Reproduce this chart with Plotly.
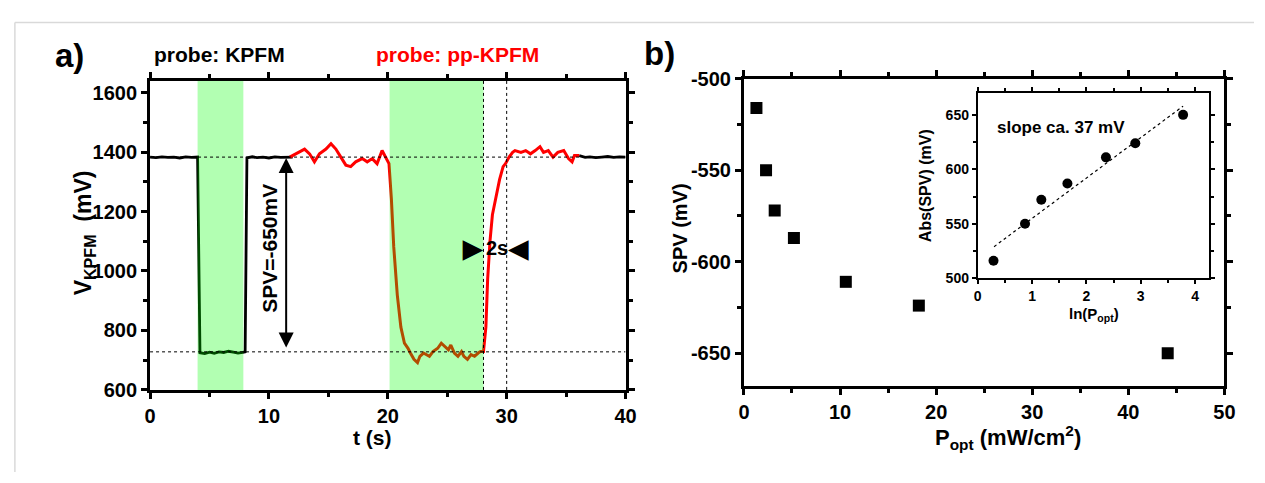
import plotly.graph_objects as go

W, H = 1265, 483

# ---------------- data: panel a ----------------
t_black1 = [0, 0.5, 1, 1.5, 2, 2.5, 3, 3.5, 4.0, 4.2, 4.6, 5.0, 5.4, 5.8, 6.2, 6.6, 7.0, 7.4, 7.8, 8.0, 8.15,
            8.6, 9.0, 9.5, 10, 10.5, 11, 11.5, 12.0]
v_black1 = [1383, 1381, 1384, 1382, 1383, 1380, 1384, 1382, 1383, 725, 722, 727, 723, 728, 726, 730, 727, 724, 726, 728,
            1380, 1384, 1381, 1383, 1380, 1384, 1382, 1383, 1383]

t_red = [11.75, 12.45, 13.0, 13.42, 13.83, 14.25, 14.8, 15.22, 15.63, 16.05, 16.47, 16.88, 17.3, 17.85, 18.27,
         18.69, 19.1, 19.52, 19.8, 20.0, 20.1, 20.3, 20.5, 20.8, 21.1, 21.4, 21.7, 21.9, 22.2, 22.5, 22.7, 23.0,
         23.3, 23.5, 23.8, 24.2, 24.5, 24.8, 25.1, 25.3, 25.6, 25.9, 26.2, 26.4, 26.7, 27.0, 27.3, 27.6, 27.8,
         28.05, 28.25, 28.4, 28.6, 28.8, 29.1, 29.4, 29.7, 29.9, 30.2, 30.5, 30.7, 31.2, 31.6, 32.0, 32.4, 32.8,
         33.1, 33.5, 33.9, 34.3, 34.8, 35.2, 35.5, 35.7, 36.1]
v_red = [1383, 1399, 1410, 1394, 1367, 1394, 1410, 1428, 1410, 1383, 1356, 1351, 1367, 1378, 1367,
         1378, 1361, 1405, 1383, 1372, 1361, 1243, 1081, 919, 811, 757, 740, 724, 703, 692, 713, 724,
         719, 713, 729, 740, 757, 746, 735, 751, 724, 713, 729, 713, 703, 719, 713, 724, 729,
         729, 811, 973, 1102, 1189, 1253, 1307, 1351, 1361, 1383, 1399, 1405, 1399, 1405, 1394, 1405, 1418,
         1399, 1405, 1383, 1399, 1405, 1378, 1367, 1388, 1388]

t_black2 = [36.1, 36.6, 37.0, 37.5, 38.0, 38.5, 39.0, 39.5, 40.0]
v_black2 = [1388, 1382, 1384, 1381, 1383, 1385, 1382, 1384, 1383]

light_bands = [(4.0, 7.85), (20.15, 28.05)]
level_high, level_low = 1383, 728
guide_t = [28.05, 30.0]

# ---------------- data: panel b ----------------
p_opt = [1.3, 2.3, 3.2, 5.2, 10.6, 18.2, 44.1]
spv = [-516, -550, -572, -587, -611, -624, -650]
spv_ticks = [-500, -550, -600, -650]
spv_ticklabels = ["-500", "-550", "-600", "-650"]

ln_p = [0.29, 0.87, 1.17, 1.65, 2.36, 2.90, 3.78]
abs_spv = [516, 550, 572, 587, 611, 624, 650]
fit_x = [0.3, 3.78]
fit_y = [529, 658]

FONT = "Liberation Sans"

fig = go.Figure()

fig.add_trace(go.Scatter(x=t_black1, y=v_black1, mode="lines", line=dict(color="black", width=2.8),
                         xaxis="x", yaxis="y", showlegend=False))
fig.add_trace(go.Scatter(x=t_black2, y=v_black2, mode="lines", line=dict(color="black", width=2.8),
                         xaxis="x", yaxis="y", showlegend=False))
fig.add_trace(go.Scatter(x=t_red, y=v_red, mode="lines", line=dict(color="red", width=3),
                         xaxis="x", yaxis="y", showlegend=False))

fig.add_trace(go.Scatter(x=p_opt, y=spv, mode="markers",
                         marker=dict(symbol="square", size=12, color="black"),
                         xaxis="x2", yaxis="y2", showlegend=False))
fig.add_trace(go.Scatter(x=fit_x, y=fit_y, mode="lines", line=dict(color="black", width=1.2, dash="dot"),
                         xaxis="x3", yaxis="y3", showlegend=False))
fig.add_trace(go.Scatter(x=ln_p, y=abs_spv, mode="markers",
                         marker=dict(symbol="circle", size=10, color="black"),
                         xaxis="x3", yaxis="y3", showlegend=False))

def px_x(p):
    return p / W

def px_y(p):
    return 1 - p / H

tickfont = dict(family=FONT, size=20, color="black", weight="bold")
small_tickfont = dict(family=FONT, size=14, color="black", weight="bold")

common = dict(showgrid=False, zeroline=False, showline=True, linecolor="black", linewidth=3,
              mirror="ticks", ticks="outside", ticklen=6, tickwidth=3, tickcolor="black")
inset_common = dict(showgrid=False, zeroline=False, showline=True, linecolor="black",
                    linewidth=2, mirror="ticks", ticks="outside", ticklen=4, tickwidth=2, tickcolor="black")

fig.update_layout(
    width=W, height=H, margin=dict(l=0, r=0, t=0, b=0),
    paper_bgcolor="white", plot_bgcolor="rgba(0,0,0,0)",
    xaxis=dict(domain=[px_x(146), px_x(628)], range=[0, 40], dtick=10, tickfont=tickfont,
               minor=dict(dtick=5, ticks="outside", ticklen=4, tickwidth=3, tickcolor="black"),
               anchor="y", **common),
    yaxis=dict(domain=[px_y(397), px_y(73)], range=[600, 1640], dtick=200, tickfont=tickfont,
               minor=dict(dtick=100, ticks="outside", ticklen=4, tickwidth=3, tickcolor="black"),
               anchor="x", **common),
    xaxis2=dict(domain=[px_x(748), px_x(1235)], range=[0, 50], dtick=10, tickfont=tickfont,
                minor=dict(dtick=5, ticks="outside", ticklen=4, tickwidth=3, tickcolor="black"),
                anchor="y2", **common),
    yaxis2=dict(domain=[px_y(393), px_y(71)], range=[-668, -500], tickvals=spv_ticks, ticktext=spv_ticklabels,
                tickfont=tickfont,
                minor=dict(dtick=25, ticks="outside", ticklen=4, tickwidth=3, tickcolor="black"),
                anchor="x2", **common),
    xaxis3=dict(domain=[px_x(985), px_x(1219)], range=[0, 4.25], dtick=1, tickfont=small_tickfont,
                minor=dict(dtick=0.5, ticks="outside", ticklen=3, tickwidth=2, tickcolor="black"),
                anchor="y3", **inset_common),
    yaxis3=dict(domain=[px_y(280), px_y(86)], range=[500, 670], dtick=50, tickfont=small_tickfont,
                minor=dict(dtick=25, ticks="outside", ticklen=3, tickwidth=2, tickcolor="black"),
                anchor="x3", **inset_common),
)

shapes = []
for a, b in light_bands:
    shapes.append(dict(type="rect", xref="x", yref="y", x0=a, x1=b, y0=600, y1=1640,
                       fillcolor="rgba(0,255,0,0.30)", line=dict(width=0), layer="above"))
for lv in (level_high, level_low):
    shapes.append(dict(type="line", xref="x", yref="y", x0=0, x1=40, y0=lv, y1=lv,
                       line=dict(color="black", width=1, dash="dot"), layer="above"))
for gt in guide_t:
    shapes.append(dict(type="line", xref="x", yref="y", x0=gt, x1=gt, y0=600, y1=1640,
                       line=dict(color="black", width=1, dash="dot"), layer="above"))
shapes.append(dict(type="line", xref="paper", yref="paper", x0=px_x(9), x1=1, y0=px_y(12), y1=px_y(12),
                   line=dict(color="#d9d9d9", width=1.5)))
shapes.append(dict(type="line", xref="paper", yref="paper", x0=px_x(9), x1=px_x(9), y0=0, y1=px_y(12),
                   line=dict(color="#d9d9d9", width=1.5)))
fig.update_layout(shapes=shapes)

ann = []
def txt(x, y, s, size=17, color="black", angle=0, xref="paper", yref="paper"):
    ann.append(dict(x=x, y=y, xref=xref, yref=yref, text=s, showarrow=False, textangle=angle,
                    xanchor="center", yanchor="middle",
                    font=dict(family=FONT, size=size, color=color, weight="bold")))

txt(px_x(64), px_y(47), "a)", size=33)
txt(px_x(662), px_y(45), "b)", size=33)
txt(px_x(216), px_y(46), "probe: KPFM", size=21)
txt(px_x(458), px_y(46), "probe: pp-KPFM", size=21, color="red")
txt(px_x(80), px_y(232), "V<sub>KPFM</sub>  (mV)", size=23, angle=-90)
txt(px_x(371), px_y(447), "t (s)", size=21)
txt(px_x(683), px_y(228), "SPV (mV)", size=20, angle=-90)
txt(px_x(1016), px_y(447), "P<sub>opt</sub> (mW/cm<sup>2</sup>)", size=22)
txt(px_x(932), px_y(183), "Abs(SPV) (mV)", size=16, angle=-90)
txt(px_x(1103), px_y(318), "ln(P<sub>opt</sub>)", size=15)
txt(px_x(1069), px_y(122), "slope ca. 37 mV", size=17)
txt(10.1, 1075, "SPV=-650mV", size=21, angle=-90, xref="x", yref="y")
txt(29.2, 1078, "2s", size=20, xref="x", yref="y")
txt(27.2, 1078, "\u25B6", size=25, xref="x", yref="y")
txt(31.0, 1078, "\u25C0", size=25, xref="x", yref="y")

ann.append(dict(x=11.45, y=1380, ax=11.45, ay=738, xref="x", yref="y", axref="x", ayref="y",
                showarrow=True, arrowhead=2, startarrowhead=2, arrowside="end+start",
                arrowsize=1.5, startarrowsize=1.5, arrowwidth=2, arrowcolor="black", text=""))
fig.update_layout(annotations=ann)

post = ("document.documentElement.style.margin='0';document.body.style.margin='0';"
        "document.body.style.padding='0';document.body.style.overflow='hidden';"
        "var d=document.getElementById('{plot_id}');"
        "d.style.position='absolute';d.style.left='0px';d.style.top='0px';")
fig.write_html("out.html", config={"displayModeBar": False}, post_script=post)
